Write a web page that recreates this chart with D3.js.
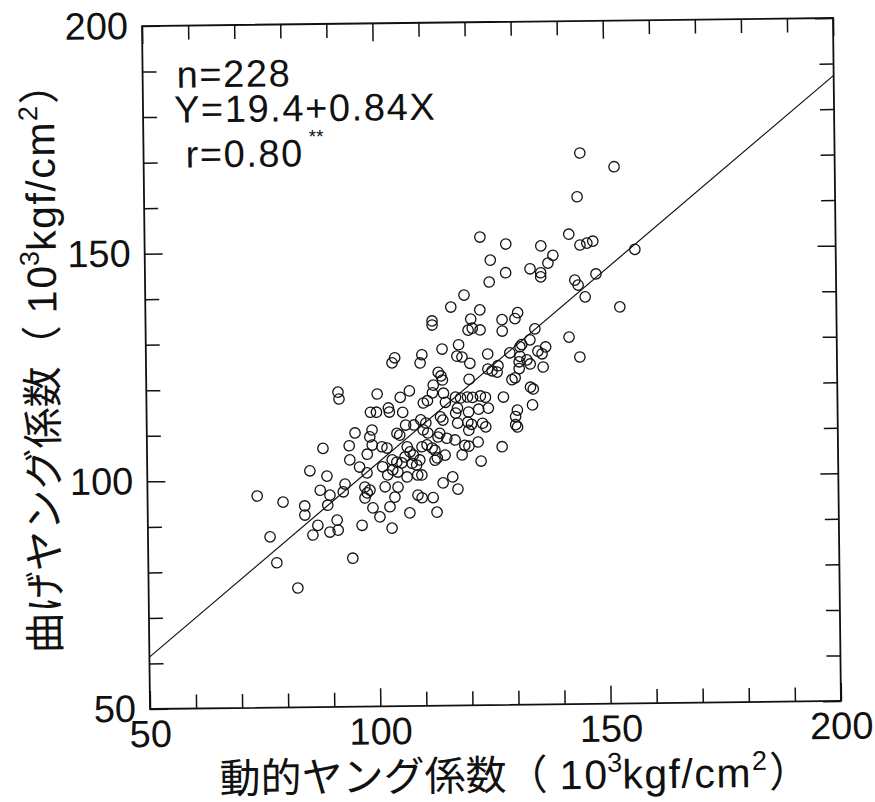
<!DOCTYPE html>
<html>
<head>
<meta charset="utf-8">
<script src="https://cdn.jsdelivr.net/npm/d3@7"></script>
<style>
  html, body { margin: 0; padding: 0; background: #fff; }
  svg { display: block; }
  text { fill: #111; }
</style>
</head>
<body>
<svg id="chart" width="875" height="802"></svg>
<script>
// Dynamic Young's modulus (x) vs. bending Young's modulus (y), 10^3 kgf/cm^2
const dynamicE = [
  122.8,128.4,142.1,136.0,144.5,146.0,147.3,125.0,138.6,137.5,
  133.6,135.9,135.9,128.3,124.7,147.9,143.3,144.0,145.5,119.2,
  116.3,122.6,120.6,127.4,130.8,130.2,112.2,112.2,120.0,120.9,
  122.6,127.4,134.5,141.9,133.4,131.6,131.2,136.8,135.1,117.9,
  114.3,124.2,144.2,129.0,109.9,109.5,104.0,103.4,117.5,118.6,
  120.3,131.2,131.0,132.7,133.4,136.0,136.2,131.0,126.4,126.2,
  124.2,125.1,113.4,114.0,114.3,120.1,129.4,130.1,133.4,134.0,
  112.3,112.1,107.1,114.5,91.6,91.8,100.1,105.1,110.1,111.0,
  117.1,118.2,119.7,120.8,122.5,123.6,114.9,127.5,133.8,102.5,
  102.7,98.6,99.9,105.6,117.5,117.1,119.9,122.1,124.2,130.5,
  130.1,130.1,130.5,113.8,114.3,109.5,110.6,106.2,108.0,117.5,
  119.7,120.5,119.9,122.9,123.6,95.2,98.9,98.4,104.3,104.9,
  110.0,111.0,113.6,113.2,115.1,116.9,119.0,119.9,121.9,127.1,
  88.2,93.9,98.9,101.0,102.1,97.8,106.5,107.1,109.7,110.8,
  111.9,112.5,106.0,107.8,113.0,114.7,118.4,94.0,103.2,104.2,
  105.3,107.5,108.5,109.2,112.5,122.5,85.3,89.0,96.1,97.7,
  101.1,102.2,103.3,104.4,106.4,108.7,109.6,116.3,92.9,92.5,
  97.2,97.7,98.3,97.2,101.6,104.4,114.2,117.4,87.5,89.6,
  89.1,73.8,79.4,108.7,109.6,112.0,103.7,102.6,84.1,84.1,
  98.9,100.4,106.9,112.8,91.1,91.3,89.5,86.9,85.8,96.5,
  103.0,76.5,144.7,152.1,144.0,156.4,153.0,77.9,82.4,94.4
];
const bendingE = [
  152.8,151.2,153.2,150.7,150.8,151.2,151.6,147.7,148.6,146.9,
  145.7,144.8,143.9,144.9,142.9,144.4,143.1,142.0,139.4,140.1,
  137.5,136.8,134.8,134.6,136.1,134.8,134.5,133.6,132.4,132.8,
  132.4,132.1,132.5,130.6,130.1,129.1,128.6,128.5,127.6,129.2,
  128.3,127.1,126.2,127.3,127.1,125.3,126.5,125.4,126.7,126.5,
  125.1,126.5,125.3,125.7,124.8,127.0,124.1,123.8,124.5,123.1,
  123.8,123.4,123.2,122.4,121.5,121.6,121.4,121.8,119.7,119.3,
  120.4,118.7,119.2,118.6,119.1,117.6,118.6,117.8,116.5,117.0,
  117.7,117.5,117.7,117.6,117.9,117.6,116.6,117.6,115.8,115.5,
  114.6,114.6,114.6,114.5,115.3,114.2,114.4,115.0,115.2,114.7,
  113.3,111.5,111.0,113.4,112.7,112.8,112.1,111.7,111.7,112.0,
  112.2,111.7,110.4,111.9,111.1,110.1,110.7,109.2,109.9,109.5,
  110.6,109.9,109.8,109.0,108.7,108.3,107.1,106.9,107.8,106.7,
  106.8,107.3,107.4,107.0,106.7,105.4,106.9,105.8,106.9,107.3,
  106.6,106.1,104.7,105.1,104.4,105.0,105.0,104.2,104.1,103.6,
  103.4,103.3,102.9,104.0,103.9,103.6,101.9,100.7,102.6,101.3,
  102.6,100.8,101.9,101.4,100.3,100.7,100.7,100.2,98.9,97.2,
  98.2,96.9,97.5,95.8,98.2,98.1,98.9,97.5,97.6,96.5,
  94.3,96.5,95.1,96.3,95.7,95.7,95.9,93.8,94.2,92.2,
  93.6,91.6,92.4,92.5,91.0,88.8,88.4,89.9,87.8,89.8,
  89.1,87.5,171.0,167.9,161.4,149.7,137.1,81.8,76.2,82.6
];

// Axis ranges and ticks (both axes 50-200)
const axisDomain = [50, 200];
const majorTicks = [50, 100, 150, 200];
const minorTicks = [60, 70, 80, 90, 110, 120, 130, 140, 160, 170, 180, 190];

// Regression fit and summary statistics
const intercept = 19.4;
const slope = 0.84;
const statsLines = ["n=228", "Y=19.4+0.84X", "r=0.80"];

const plot = { left: 146, right: 837, top: 22, bottom: 705 };

const svg = d3.select("#chart");
const root = svg.append("g")
  .attr("transform", `rotate(-0.67, ${(plot.left + plot.right) / 2}, ${(plot.top + plot.bottom) / 2})`);

const x = d3.scaleLinear().domain(axisDomain).range([plot.left, plot.right]);
const y = d3.scaleLinear().domain(axisDomain).range([plot.bottom, plot.top]);

const numFont = "'Liberation Sans', Arial, sans-serif";
const titleFont = "'Liberation Sans', 'Noto Sans CJK JP', sans-serif";
const cjkFont = "'Noto Sans CJK JP', sans-serif";

function styleAxis(g) {
  g.select(".domain").remove();
  g.selectAll(".tick line").attr("stroke", "#111").attr("stroke-width", 1.5);
  g.selectAll("text").style("font-family", numFont).style("font-size", "38px").attr("fill", "#111");
}

// Minor ticks on all four sides, pointing inward
root.append("g").attr("transform", `translate(0,${plot.bottom})`)
  .call(d3.axisBottom(x).tickValues(minorTicks).tickSize(-14).tickFormat(""))
  .call(styleAxis);
root.append("g").attr("transform", `translate(0,${plot.top})`)
  .call(d3.axisTop(x).tickValues(minorTicks).tickSize(-14).tickFormat(""))
  .call(styleAxis);
root.append("g").attr("transform", `translate(${plot.left},0)`)
  .call(d3.axisLeft(y).tickValues(minorTicks).tickSize(-14).tickFormat(""))
  .call(styleAxis);
root.append("g").attr("transform", `translate(${plot.right},0)`)
  .call(d3.axisRight(y).tickValues(minorTicks).tickSize(-14).tickFormat(""))
  .call(styleAxis);

// Major ticks with labels on bottom and left
root.append("g").attr("transform", `translate(0,${plot.bottom})`)
  .call(d3.axisBottom(x).tickValues(majorTicks).tickSize(-18).tickPadding(11).tickFormat(d3.format("d")))
  .call(styleAxis);
root.append("g").attr("transform", `translate(0,${plot.top})`)
  .call(d3.axisTop(x).tickValues(majorTicks).tickSize(-18).tickFormat(""))
  .call(styleAxis);
root.append("g").attr("transform", `translate(${plot.left},0)`)
  .call(d3.axisLeft(y).tickValues(majorTicks).tickSize(-18).tickPadding(14).tickFormat(d3.format("d")))
  .call(styleAxis);
root.append("g").attr("transform", `translate(${plot.right},0)`)
  .call(d3.axisRight(y).tickValues(majorTicks).tickSize(-18).tickFormat(""))
  .call(styleAxis);

// Frame
root.append("rect")
  .attr("x", plot.left).attr("y", plot.top)
  .attr("width", plot.right - plot.left).attr("height", plot.bottom - plot.top)
  .attr("fill", "none").attr("stroke", "#111").attr("stroke-width", 1.8);

// Regression line across the full x range
root.append("line")
  .attr("x1", x(axisDomain[0])).attr("y1", y(intercept + slope * axisDomain[0]))
  .attr("x2", x(axisDomain[1])).attr("y2", y(intercept + slope * axisDomain[1]))
  .attr("stroke", "#111").attr("stroke-width", 1.2);

// Specimens as open circles
const pts = dynamicE.map((d, i) => ({ x: d, y: bendingE[i] }));
root.append("g").selectAll("circle").data(pts).join("circle")
  .attr("cx", d => x(d.x)).attr("cy", d => y(d.y))
  .attr("r", 5.2).attr("fill", "none")
  .attr("stroke", "#111").attr("stroke-width", 1.3);

// Summary statistics block, one text element with three lines
const stats = root.append("text")
  .style("font-family", numFont).style("font-size", "38px")
  .style("letter-spacing", "1.6px");
stats.append("tspan").attr("x", 180).attr("y", 84).text(statsLines[0]);
stats.append("tspan").attr("x", 177).attr("y", 119).text(statsLines[1]);
stats.append("tspan").attr("x", 188).attr("y", 164).text(statsLines[2]);
stats.append("tspan").attr("dx", 5).attr("dy", -23)
  .style("font-size", "19px").style("letter-spacing", "0px").text("**");

// Axis titles: label, then the unit with superscripts in full-width brackets
function unitTitle(sel, label) {
  sel.append("tspan").text(label);
  sel.append("tspan").style("font-family", cjkFont).text("（");
  sel.append("tspan").attr("dx", 12).style("letter-spacing", "2px").text("10");
  sel.append("tspan").attr("dx", -2).attr("dy", -17).style("font-size", "27px").text("3");
  sel.append("tspan").attr("dy", 17).style("letter-spacing", "1.5px").text("kgf/cm");
  sel.append("tspan").attr("dy", -17).style("font-size", "27px").text("2");
  sel.append("tspan").attr("dx", 2).attr("dy", 17).style("font-family", cjkFont).text("）");
}

const xTitle = root.append("text")
  .attr("x", 510).attr("y", 790)
  .attr("text-anchor", "middle")
  .style("font-family", titleFont).style("font-size", "41px");
unitTitle(xTitle, "動的ヤング係数");

const yTitle = root.append("text")
  .attr("transform", "translate(57,353) rotate(-90)")
  .attr("text-anchor", "middle")
  .style("font-family", titleFont).style("font-size", "41px");
unitTitle(yTitle, "曲げヤング係数");
</script>
</body>
</html>
